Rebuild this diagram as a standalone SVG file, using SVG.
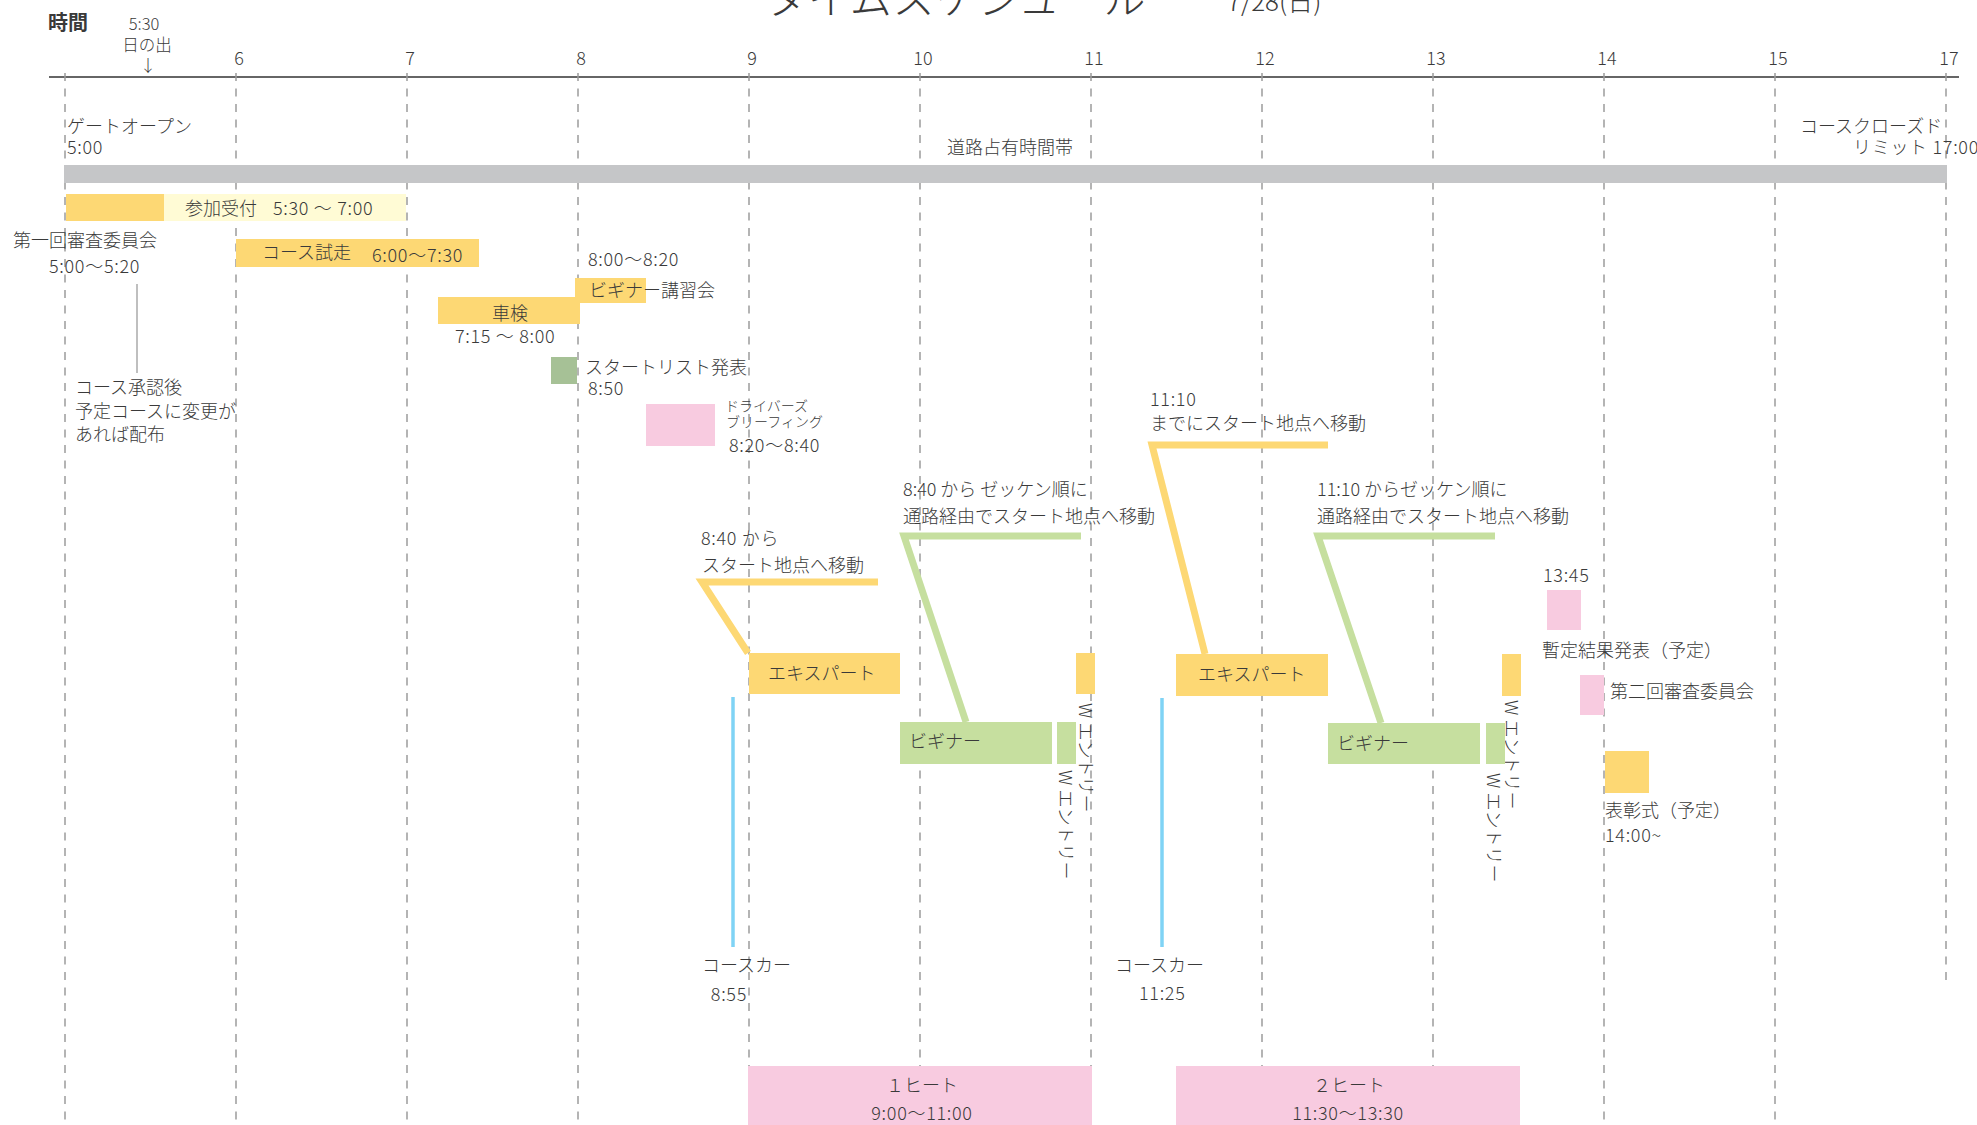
<svg xmlns="http://www.w3.org/2000/svg" width="1977" height="1125" viewBox="0 0 1977 1125">
<style>
text{font-family:"Noto Sans CJK JP","Noto Sans",sans-serif;font-size:18px;font-weight:300;fill:#3a3a3a}
.sm{font-size:14px}
.n{letter-spacing:0.7px}
.hr{font-size:18px;text-anchor:middle}
.mid{text-anchor:middle}
.end{text-anchor:end}
.grid{stroke:#9c9c9c;stroke-width:1.5;stroke-dasharray:8 7.5;fill:none}
.y{fill:#fdd874}
.ly{fill:#fffbd5}
.g{fill:#c6df9f}
.dg{fill:#a6c196}
.p{fill:#f8cbe0}
.bar{fill:#c5c6c8}
.cy{fill:none;stroke:#fdd874;stroke-width:7;stroke-linejoin:miter}
.cg{fill:none;stroke:#c6df9f;stroke-width:7;stroke-linejoin:miter}
.car{stroke:#7fd3f5;stroke-width:3.5}
</style>
<rect width="1977" height="1125" fill="#ffffff"/>
<g id="title">
<text x="765" y="14" style="font-size:42px;letter-spacing:0.8px">タイムスケジュール</text>
<text x="1227" y="11" style="font-size:26px">7/28(日)</text>
</g>
<g id="axis">
<line x1="49" y1="77" x2="1959" y2="77" stroke="#666" stroke-width="2"/>
<g class="gridlines">
<line class="grid" x1="65" y1="73" x2="65" y2="1125"/>
<line class="grid" x1="236" y1="73" x2="236" y2="1125"/>
<line class="grid" x1="407" y1="73" x2="407" y2="1125"/>
<line class="grid" x1="578" y1="73" x2="578" y2="1125"/>
<line class="grid" x1="749" y1="73" x2="749" y2="1125"/>
<line class="grid" x1="920" y1="73" x2="920" y2="1125"/>
<line class="grid" x1="1091" y1="73" x2="1091" y2="1125"/>
<line class="grid" x1="1262" y1="73" x2="1262" y2="1125"/>
<line class="grid" x1="1433" y1="73" x2="1433" y2="1125"/>
<line class="grid" x1="1604" y1="73" x2="1604" y2="1125"/>
<line class="grid" x1="1775" y1="73" x2="1775" y2="1125"/>
<line class="grid" x1="1946" y1="73" x2="1946" y2="980"/>
</g>
<text x="48" y="30" style="font-size:20px;font-weight:bold">時間</text>
<text class="hr" x="144" y="30" style="font-size:16.5px">5:30</text>
<text class="hr" x="147" y="51" style="font-size:16.5px">日の出</text>
<text class="hr" x="148" y="72" style="font-size:16.5px">↓</text>
<text class="hr" x="239" y="65">6</text>
<text class="hr" x="410" y="65">7</text>
<text class="hr" x="581" y="65">8</text>
<text class="hr" x="752" y="65">9</text>
<text class="hr" x="923" y="65">10</text>
<text class="hr" x="1094" y="65">11</text>
<text class="hr" x="1265" y="65">12</text>
<text class="hr" x="1436" y="65">13</text>
<text class="hr" x="1607" y="65">14</text>
<text class="hr" x="1778" y="65">15</text>
<text class="hr" x="1949" y="65">17</text>
</g>
<g id="road">
<rect class="bar" x="64" y="165" width="1883" height="18"/>
<text x="67" y="133">ゲートオープン</text>
<text class="n" x="67" y="154">5:00</text>
<text x="947" y="154">道路占有時間帯</text>
<text x="1800" y="133">コースクローズド</text>
<text class="n" x="1853" y="154">リミット 17:00</text>
</g>
<g id="reception">
<rect class="y" x="66" y="194" width="98" height="27"/>
<rect class="ly" x="164" y="194" width="242" height="27"/>
<text x="185" y="215">参加受付</text>
<text class="n" x="273" y="215">5:30 ～ 7:00</text>
</g>
<g id="committee1">
<text x="13" y="247">第一回審査委員会</text>
<text class="n" x="49" y="273">5:00～5:20</text>
<line x1="137" y1="284" x2="137" y2="373" stroke="#aaaaaa" stroke-width="1.5"/>
<text x="75" y="394">コース承認後</text>
<text x="75" y="418">予定コースに変更が</text>
<text x="75" y="441">あれば配布</text>
</g>
<g id="trial">
<rect class="y" x="236" y="239" width="243" height="28"/>
<text x="262" y="259">コース試走</text>
<text class="n" x="372" y="262">6:00～7:30</text>
</g>
<g id="inspection">
<rect class="y" x="438" y="297" width="142" height="27"/>
<text class="mid" x="510" y="320">車検</text>
<text class="n" x="455" y="343">7:15 ～ 8:00</text>
</g>
<g id="beginner-lecture">
<rect class="y" x="575" y="278" width="71" height="25"/>
<text class="n" x="588" y="266">8:00～8:20</text>
<text x="589" y="297">ビギナー講習会</text>
</g>
<g id="startlist">
<rect class="dg" x="551" y="357" width="26" height="27"/>
<text x="585" y="374">スタートリスト発表</text>
<text class="n" x="588" y="395">8:50</text>
</g>
<g id="briefing">
<rect class="p" x="646" y="404" width="69" height="42"/>
<text class="sm" x="725" y="411">ドライバーズ</text>
<text class="sm" x="726" y="427">ブリーフィング</text>
<text class="n" x="729" y="452">8:20～8:40</text>
</g>
<g id="connectors">
<polyline class="cy" points="878,582 702,582 748,653"/>
<polyline class="cg" points="1081,536 904,536 966,722"/>
<polyline class="cy" points="1328,445 1152,445 1205,654"/>
<polyline class="cg" points="1495,536 1318,536 1381,723"/>
<line class="car" x1="733" y1="697" x2="733" y2="947"/>
<line class="car" x1="1162" y1="698" x2="1162" y2="947"/>
</g>
<g id="move1-label">
<text class="n" x="701" y="545">8:40 から</text>
<text x="702" y="572">スタート地点へ移動</text>
</g>
<g id="move2-label">
<text x="903" y="496">8:40 から ゼッケン順に</text>
<text x="903" y="523">通路経由でスタート地点へ移動</text>
</g>
<g id="move3-label">
<text class="n" x="1150" y="406">11:10</text>
<text x="1150" y="430">までにスタート地点へ移動</text>
</g>
<g id="move4-label">
<text x="1317" y="496">11:10 からゼッケン順に</text>
<text x="1317" y="523">通路経由でスタート地点へ移動</text>
</g>
<g id="expert1">
<rect class="y" x="749" y="653" width="151" height="41"/>
<text x="768" y="680">エキスパート</text>
</g>
<g id="expert1-w">
<rect class="y" x="1076" y="653" width="19" height="41"/>
<text transform="translate(1079,703) rotate(90)">W エントリー</text>
</g>
<g id="beginner1">
<rect class="g" x="900" y="722" width="152" height="42"/>
<text x="909" y="748">ビギナー</text>
</g>
<g id="beginner1-w">
<rect class="g" x="1057" y="722" width="19" height="42"/>
<text transform="translate(1059,770) rotate(90)">W エントリー</text>
</g>
<g id="expert2">
<rect class="y" x="1176" y="654" width="152" height="42"/>
<text x="1198" y="681">エキスパート</text>
</g>
<g id="expert2-w">
<rect class="y" x="1502" y="654" width="19" height="42"/>
<text transform="translate(1505,700) rotate(90)">W エントリー</text>
</g>
<g id="beginner2">
<rect class="g" x="1328" y="723" width="152" height="41"/>
<text x="1337" y="750">ビギナー</text>
</g>
<g id="beginner2-w">
<rect class="g" x="1486" y="723" width="19" height="41"/>
<text transform="translate(1487,773) rotate(90)">W エントリー</text>
</g>
<g id="coursecar1">
<text x="702" y="972">コースカー</text>
<text class="n end" x="747" y="1001">8:55</text>
</g>
<g id="coursecar2">
<text x="1115" y="972">コースカー</text>
<text class="n" x="1139" y="1000">11:25</text>
</g>
<g id="heat1">
<rect class="p" x="748" y="1066" width="344" height="59"/>
<text class="mid" x="922" y="1092">１ヒート</text>
<text class="n mid" x="922" y="1120">9:00～11:00</text>
</g>
<g id="heat2">
<rect class="p" x="1176" y="1066" width="344" height="59"/>
<text class="mid" x="1349" y="1092">２ヒート</text>
<text class="n mid" x="1348" y="1120">11:30～13:30</text>
</g>
<g id="results">
<text class="n" x="1543" y="582">13:45</text>
<rect class="p" x="1547" y="590" width="34" height="40"/>
<text x="1542" y="657">暫定結果発表（予定）</text>
</g>
<g id="committee2">
<rect class="p" x="1580" y="675" width="24" height="40"/>
<text x="1610" y="698">第二回審査委員会</text>
</g>
<g id="ceremony">
<rect class="y" x="1605" y="751" width="44" height="42"/>
<text x="1605" y="817">表彰式（予定）</text>
<text class="n" x="1605" y="842">14:00~</text>
</g>
</svg>
